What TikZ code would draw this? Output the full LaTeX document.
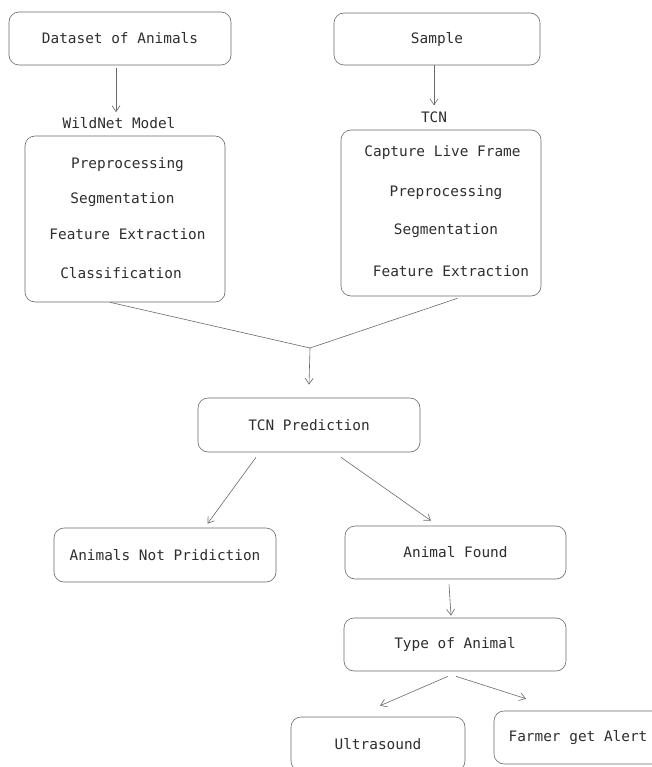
\documentclass[tikz,border=0pt]{standalone}
\usepackage{fontspec}
\setmonofont{DejaVu Sans Mono}
\usetikzlibrary{arrows.meta,calc}
\definecolor{linec}{HTML}{6A6A6A}
\definecolor{textc}{HTML}{2E2E2E}
\tikzset{
  box/.style={draw=linec, line width=0.6pt, rounded corners=10pt, inner sep=0pt, font=\ttfamily\fontsize{14.4}{17}\selectfont, text=textc},
  lbl/.style={inner sep=0pt, font=\ttfamily\fontsize{14.4}{17}\selectfont, text=textc},
  conn/.style={draw=linec, line width=0.6pt},
  arr/.style={conn, -{Straight Barb[length=6pt,width=8pt]}},
}
\begin{document}
\begin{tikzpicture}[x=1pt,y=-1pt]
\useasboundingbox (0,0) rectangle (652,767);
\clip (0,0) rectangle (652,767);
\fill[white] (0,0) rectangle (652,767);
% top boxes
\node[box, minimum width=222pt, minimum height=53pt] (D) at (120,38.5) {Dataset of Animals};
\node[box, minimum width=206pt, minimum height=52pt] (S) at (437,39) {Sample};
\node[lbl] (W) at (119,123) {WildNet Model};
\node[lbl] (T) at (434,117) {TCN};
\draw[arr] ($(D.south)+(-4,3)$) -- ($(W.north)+(-3,-5)$);
\draw[arr] ($(S.south)+(-3,0)$) -- ($(T.north)+(0,-6)$);
% big boxes
\node[box, minimum width=200pt, minimum height=166pt] (L) at (125,219) {};
\node[lbl] (L1) at (127.5,165) {Preprocessing};
\node[lbl] (L2) at (122.5,200) {Segmentation};
\node[lbl] (L3) at (127.5,234) {Feature Extraction};
\node[lbl] (L4) at (121,273) {Classification};
\node[box, minimum width=200pt, minimum height=166pt] (R) at (441,213) {};
\node[lbl] (R1) at (442.5,153) {Capture Live Frame};
\node[lbl] (R2) at (446,193) {Preprocessing};
\node[lbl] (R3) at (446,231) {Segmentation};
\node[lbl] (R4) at (451,271) {Feature Extraction};
% merge
\coordinate (m) at (310,348);
\node[box, minimum width=222pt, minimum height=54pt] (P) at (309,425) {TCN Prediction};
\draw[conn] ($(L.south)+(-15,0)$) -- (m);
\draw[conn] ($(R.south)+(16.5,2)$) -- (m);
\draw[arr] (m) -- ($(P.north)+(0,-13)$);
% second level
\node[box, minimum width=222pt, minimum height=54pt] (NP) at (165,555) {Animals Not Pridiction};
\node[box, minimum width=221pt, minimum height=53pt] (AF) at (455.5,552.5) {Animal Found};
\draw[arr] ($(P.south)+(-53,5)$) -- ($(NP.north)+(42.5,-4)$);
\draw[arr] ($(P.south)+(32,5)$) -- ($(AF.north)+(-24.5,-5)$);
\node[box, minimum width=222pt, minimum height=53pt] (TA) at (455,644.5) {Type of Animal};
\draw[arr] ($(AF.south)+(-6.5,5)$) -- ($(TA.north)+(-4,-2)$);
\node[box, minimum width=174pt, minimum height=54pt] (U) at (378,744) {Ultrasound};
\node[box, minimum width=168pt, minimum height=53pt] (F) at (578,737.5) {Farmer get Alert};
\draw[arr] ($(TA.south)+(-7,5)$) -- ($(U.north)+(2,-11)$);
\draw[arr] ($(TA.south)+(1,5)$) -- ($(F.north)+(-52,-12)$);
\end{tikzpicture}
\end{document}
